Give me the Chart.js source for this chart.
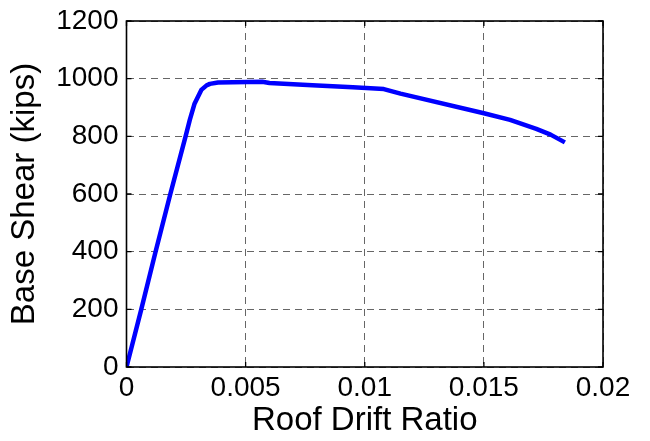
<!DOCTYPE html>
<html>
<head>
<meta charset="utf-8">
<script src="https://cdn.jsdelivr.net/npm/chart.js@4.4.0/dist/chart.umd.min.js"></script>
<style>
html,body{margin:0;padding:0;background:#fff;}
canvas{display:block;}
</style>
</head>
<body>
<canvas id="c" width="650" height="441"></canvas>
<script>
const driftRatio = [0, 0.00062, 0.00122, 0.00184, 0.00248, 0.00266, 0.00285, 0.00314, 0.00335, 0.00350, 0.00384, 0.0057, 0.0060, 0.0078, 0.0095, 0.0108, 0.0115, 0.0150, 0.0161, 0.0172, 0.0178, 0.0184];
const baseShear  = [0, 200, 400, 600, 800, 858, 912, 961, 976, 982, 987, 989, 985, 977, 970, 964, 948, 880, 857, 826, 806, 779];
const xTickValues = [0, 0.005, 0.01, 0.015, 0.02];
const xTickLabels = ['0', '0.005', '0.01', '0.015', '0.02'];
const yTickValues = [0, 200, 400, 600, 800, 1000, 1200];
const yTickLabels = ['0', '200', '400', '600', '800', '1000', '1200'];

const points = driftRatio.map((x, i) => ({x: x, y: baseShear[i]}));
const FONT = "'Liberation Sans', Arial, Helvetica, sans-serif";

const boxPlugin = {
  id: 'boxPlugin',
  afterDraw(chart) {
    const ctx = chart.ctx;
    const a = chart.chartArea;
    const xs = chart.scales.x, ys = chart.scales.y;
    const tl = 5;
    ctx.save();
    ctx.strokeStyle = '#000';
    ctx.lineWidth = 1.3;
    ctx.beginPath();
    xTickValues.forEach(v => {
      const px = xs.getPixelForValue(v);
      ctx.moveTo(px, a.bottom); ctx.lineTo(px, a.bottom - tl);
      ctx.moveTo(px, a.top); ctx.lineTo(px, a.top + tl);
    });
    yTickValues.forEach(v => {
      const py = ys.getPixelForValue(v);
      ctx.moveTo(a.left, py); ctx.lineTo(a.left + tl, py);
      ctx.moveTo(a.right, py); ctx.lineTo(a.right - tl, py);
    });
    ctx.stroke();
    ctx.lineWidth = 1.6;
    ctx.strokeRect(a.left, a.top, a.right - a.left, a.bottom - a.top);
    ctx.restore();
  }
};

new Chart(document.getElementById('c'), {
  type: 'scatter',
  data: {
    datasets: [{
      data: points,
      showLine: true,
      borderColor: '#0000ff',
      backgroundColor: '#0000ff',
      borderWidth: 4.5,
      pointRadius: 0,
      tension: 0,
      borderCapStyle: 'butt',
      borderJoinStyle: 'round'
    }]
  },
  options: {
    responsive: false,
    animation: false,
    devicePixelRatio: 1,
    layout: { padding: { top: 21, right: 47, left: 0, bottom: 0 } },
    plugins: { legend: { display: false }, tooltip: { enabled: false } },
    scales: {
      x: {
        type: 'linear',
        min: 0, max: 0.02,
        afterBuildTicks(s) { s.ticks = xTickValues.map(v => ({value: v})); },
        afterFit(s) { s.height = 74; s.paddingLeft = 0; s.paddingRight = 0; },
        ticks: {
          callback: (v, i) => xTickLabels[i],
          font: { family: FONT, size: 28 },
          color: '#000',
          padding: 4,
          maxRotation: 0,
          autoSkip: false
        },
        grid: { color: '#666666', lineWidth: 1, drawTicks: false },
        border: { display: false, dash: [7, 5] },
        title: {
          display: true,
          text: 'Roof Drift Ratio',
          font: { family: FONT, size: 33 },
          color: '#000',
          padding: { top: 0, bottom: 0 }
        }
      },
      y: {
        type: 'linear',
        min: 0, max: 1200,
        afterBuildTicks(s) { s.ticks = yTickValues.map(v => ({value: v})); },
        afterFit(s) { s.width = 126.5; s.paddingTop = 0; s.paddingBottom = 0; },
        ticks: {
          callback: (v, i) => yTickLabels[i],
          font: { family: FONT, size: 28 },
          color: '#000',
          padding: 8,
          autoSkip: false
        },
        grid: { color: '#666666', lineWidth: 1, drawTicks: false },
        border: { display: false, dash: [7, 5] },
        title: {
          display: true,
          text: 'Base Shear (kips)',
          font: { family: FONT, size: 33 },
          color: '#000',
          padding: { top: 5, bottom: 0 }
        }
      }
    }
  },
  plugins: [boxPlugin]
});
</script>
</body>
</html>
